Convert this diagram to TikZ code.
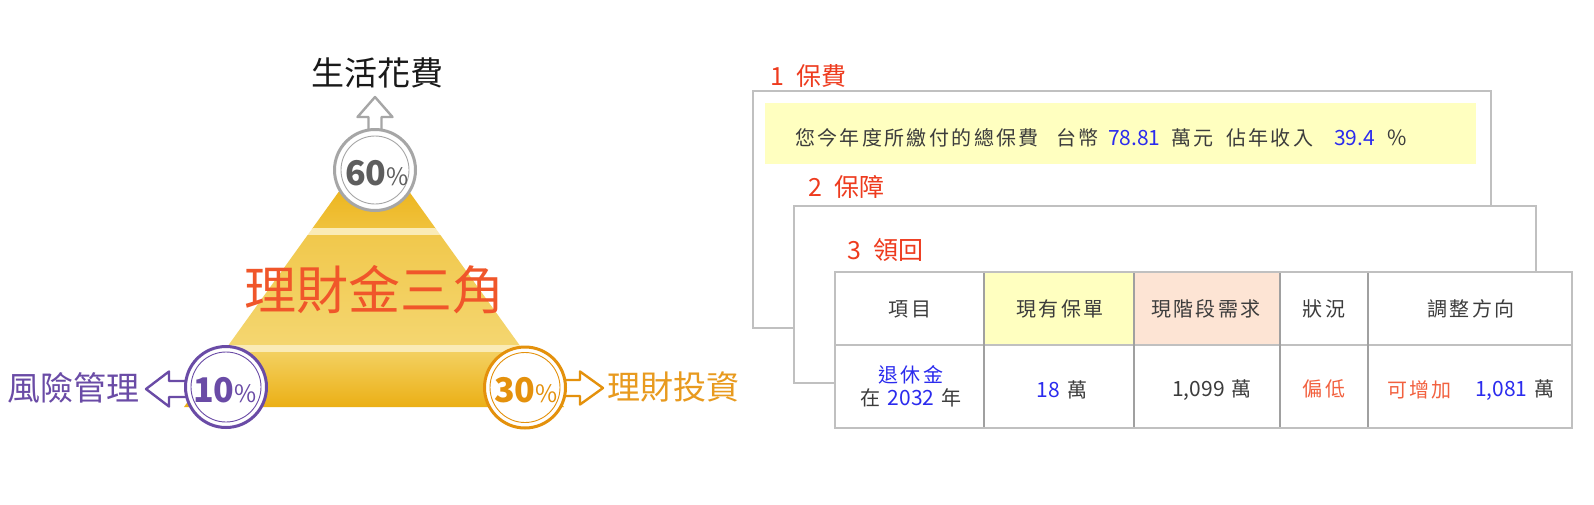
\documentclass[tikz,border=0pt]{standalone}
\usepackage{fontspec}
\setmainfont{Noto Sans CJK TC}
\newfontfamily\plain{Noto Sans CJK TC}
\newfontfamily\cjk[LetterSpace=12]{Noto Sans CJK TC}
\usetikzlibrary{calc}
\newcommand\fsz[1]{\fontsize{#1}{#1}\selectfont}
\definecolor{labred}{HTML}{EE3B1E}
\definecolor{numblue}{HTML}{2B2BEE}
\definecolor{txtgray}{HTML}{3C3C3C}
\definecolor{lowred}{HTML}{F2613F}
\definecolor{boxgray}{HTML}{C0C0C0}
\definecolor{vgray}{HTML}{A0A0A0}
\definecolor{barfill}{HTML}{FFFFC0}
\definecolor{peach}{HTML}{FDE4D4}
\definecolor{purp}{HTML}{6A4BA6}
\definecolor{orgC}{HTML}{E4910C}
\definecolor{orgT}{HTML}{E89A1E}
\definecolor{grayC}{HTML}{A6A6A6}
\definecolor{grayT}{HTML}{5E5E5E}
\definecolor{titlec}{HTML}{F0562A}
\definecolor{goldA}{HTML}{ECB41C}
\definecolor{goldB}{HTML}{F0C23C}
\definecolor{goldC}{HTML}{F1C84C}
\definecolor{goldD}{HTML}{F8E49E}
\definecolor{goldE}{HTML}{F4D670}
\definecolor{goldF}{HTML}{F3D060}
\definecolor{goldG}{HTML}{EBAF14}
\definecolor{stripe}{HTML}{FAEBB6}
\begin{document}
\begin{tikzpicture}[x=1pt,y=-1pt,
  txt/.style={inner sep=0pt, outer sep=0pt},
  ring/.style={circle, draw, line width=3pt, fill=white, minimum size=81pt, inner sep=0pt},
  arr/.style={line width=2.4pt, line join=round, fill=white},
  boxl/.style={draw=boxgray, line width=2.2pt, fill=white},
  hd/.style={txt, text=txtgray, font=\cjk\fsz{20}},
]
\useasboundingbox (0,0) rectangle (1594,504);
\fill[white] (0,0) rectangle (1594,504);

% ---------- pyramid ----------
\begin{scope}
\clip (340,190) -- (408,190) -- (564,407) -- (184,407) -- cycle;
\shade[top color=goldA, bottom color=goldB] (180,185) rectangle (570,228);
\fill[stripe] (180,228) rectangle (570,235);
\shade[top color=goldC, middle color=goldD, bottom color=goldE] (180,235) rectangle (570,345);
\fill[stripe] (180,345) rectangle (570,352);
\shade[top color=goldF, bottom color=goldG] (180,352) rectangle (570,408);
\end{scope}

\node[txt, text=titlec] (title) at (374,290) {\plain\fsz{52}理財金三角};

% ---------- arrows ----------
\draw[arr, draw=grayC] (368.5,130) -- (368.5,117) -- (357.5,117) -- (375,97) -- (392.5,117) -- (381.5,117) -- (381.5,130);
\draw[arr, draw=purp] (187,381) -- (169,381) -- (169,371.5) -- (146,389) -- (169,406.5) -- (169,397) -- (187,397);
\draw[arr, draw=orgC] (564,380) -- (580,380) -- (580,371.5) -- (603,388) -- (580,404.5) -- (580,396) -- (564,396);

% ---------- rings ----------
\node[ring, draw=grayC] (c60) at (375,170) {};
\draw[grayC, line width=0.9pt] (c60.center) circle[radius=34pt];
\node[txt, text=grayT] (t60) at (377,173) {\plain\fsz{34}\bfseries 60\fsz{24}\mdseries\%};

\node[ring, draw=purp] (c10) at (226,387) {};
\draw[purp, line width=0.9pt] (c10.center) circle[radius=35pt];
\node[txt, text=purp] (t10) at (225,390) {\plain\fsz{34}\bfseries 10\fsz{24}\mdseries\%};

\node[ring, draw=orgC] (c30) at (525,387.5) {};
\draw[orgC, line width=0.9pt] (c30.center) circle[radius=35pt];
\node[txt, text=orgC] (t30) at (526,390) {\plain\fsz{34}\bfseries 30\fsz{24}\mdseries\%};

% ---------- labels ----------
\node[txt, text=black!90] (life) at (377,73) {\plain\fsz{33}生活花費};
\node[txt, text=purp, anchor=east] (risk) at (139,388) {\plain\fsz{33}風險管理};
\node[txt, text=orgT, anchor=west] (invest) at (607,387) {\plain\fsz{33}理財投資};

% ---------- box 1 ----------
\node[txt, text=labred, anchor=west] (l1) at (770,76) {\plain\fsz{25}1\hspace{0.5em}保費};
\draw[boxl] (753,91) rectangle (1491,328);
\fill[barfill] (765,103) rectangle (1476,164);
\node[txt, text=txtgray, anchor=base west] (b1) at (795,145.6) {\cjk\fsz{20}您今年度所繳付的總保費};
\node[txt, text=txtgray, anchor=base west] (b2) at (1056,145.6) {\cjk\fsz{20}台幣};
\node[txt, text=numblue, anchor=base west] (b3) at (1108,145.6) {\plain\fsz{21}78.81};
\node[txt, text=txtgray, anchor=base west] (b4) at (1171,145.6) {\cjk\fsz{20}萬元};
\node[txt, text=txtgray, anchor=base west] (b5) at (1226,145.6) {\cjk\fsz{20}佔年收入};
\node[txt, text=numblue, anchor=base west] (b6) at (1334,145.6) {\plain\fsz{21}39.4};
\node[txt, text=txtgray, anchor=base west] (b7) at (1387,145.6) {\plain\fsz{21}\%};

% ---------- box 2 ----------
\node[txt, text=labred, anchor=west] (l2) at (808,187) {\plain\fsz{25}2\hspace{0.5em}保障};
\draw[boxl] (794,206) rectangle (1536,383);
\node[txt, text=labred, anchor=west] (l3) at (847,250) {\plain\fsz{25}3\hspace{0.5em}領回};

% ---------- table ----------
\fill[white] (835,272) rectangle (1572,428);
\fill[barfill] (984,272) rectangle (1134,345);
\fill[peach] (1134,272) rectangle (1280,345);
\draw[boxgray, line width=2pt] (835,345) -- (1572,345);
\foreach \xx in {984,1134,1280,1368}
  \draw[vgray, line width=1.3pt] (\xx,272) -- (\xx,428);
\draw[boxgray, line width=2.2pt] (835,272) rectangle (1572,428);

\node[hd] (h1) at (910,309) {項目};
\node[hd] (h2) at (1060,309) {現有保單};
\node[hd] (h3) at (1206,309) {現階段需求};
\node[hd] (h4) at (1324,309) {狀況};
\node[hd] (h5) at (1471,309) {調整方向};

\node[txt, text=numblue] (r1a) at (911,375) {\cjk\fsz{20}退休金};
\node[txt, text=txtgray] (r1b) at (911,398) {\cjk\fsz{20}在 {\plain\fsz{21}\color{numblue}2032} 年};
\node[txt, text=txtgray] (r2) at (1062,390) {{\plain\fsz{21}\color{numblue}18}\hspace{7pt}{\cjk\fsz{20}萬}};
\node[txt, text=txtgray] (r3) at (1212,390) {{\plain\fsz{21}1,099}\hspace{7pt}{\cjk\fsz{20}萬}};
\node[txt, text=lowred] (r4) at (1324,389) {\cjk\fsz{20}偏低};
\node[txt, text=lowred, anchor=west] (r5a) at (1387,390) {\cjk\fsz{20}可增加};
\node[txt, text=txtgray, anchor=west] (r5b) at (1475,390) {{\plain\fsz{21}\color{numblue}1,081}\hspace{7pt}{\cjk\fsz{20}萬}};
\end{tikzpicture}
\end{document}
